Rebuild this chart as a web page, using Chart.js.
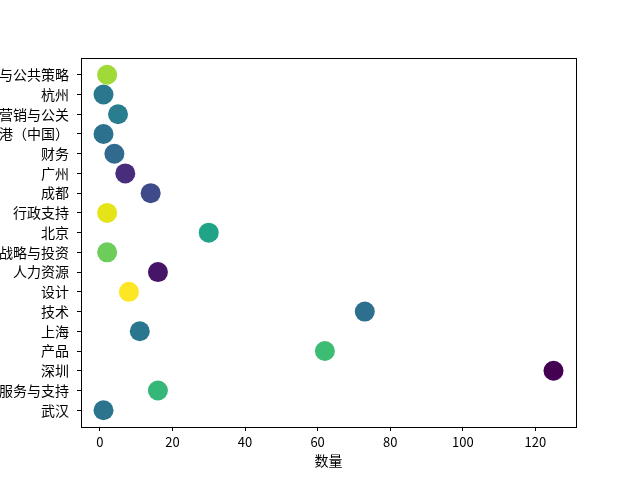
<!DOCTYPE html>
<html>
<head>
<meta charset="utf-8">
<script src="https://cdn.jsdelivr.net/npm/chart.js@4"></script>
<style>
  html, body { margin: 0; padding: 0; background: #fff; }
  #wrap { width: 640px; height: 480px; }
</style>
</head>
<body>
<div id="wrap"><canvas id="c" width="640" height="480"></canvas></div>
<script>
// categories listed bottom to top, as they sit on the y axis
const categories = ['武汉', '客户服务与支持', '深圳', '产品', '上海', '技术', '设计', '人力资源', '战略与投资',
                    '北京', '行政支持', '成都', '广州', '财务', '香港（中国）', '市场营销与公关', '杭州', '政府与公共策略'];
const counts = [1, 16, 125, 62, 11, 73, 8, 16, 2, 30, 2, 14, 7, 4, 1, 5, 1, 2];
const pointColors = ['#2c738e', '#35b779', '#440154', '#3dbc74', '#2a768e', '#2d708e', '#fde725', '#481467', '#6ccd5a',
                     '#20a386', '#e5e419', '#3e4a89', '#472d7b', '#306a8e', '#2c728e', '#287d8e', '#2a788e', '#a0da39'];
const xTicks = [0, 20, 40, 60, 80, 100, 120];

const FONT = "'Noto Sans CJK SC', 'DejaVu Sans', sans-serif";

// full black frame round the plot area, like matplotlib's spines
const frame = {
  id: 'frame',
  afterDraw(chart) {
    const a = chart.chartArea, ctx = chart.ctx;
    ctx.save();
    ctx.strokeStyle = '#000';
    ctx.lineWidth = 1;
    ctx.strokeRect(Math.round(a.left) + 0.5, Math.round(a.top) + 0.5,
                   Math.round(a.right - a.left), Math.round(a.bottom - a.top));
    ctx.restore();
  }
};

new Chart(document.getElementById('c'), {
  type: 'scatter',
  data: {
    datasets: [{
      data: counts.map((v, i) => ({ x: v, y: i })),
      backgroundColor: pointColors,
      borderWidth: 0,
      pointRadius: 10,
      pointHoverRadius: 10
    }]
  },
  options: {
    responsive: false,
    animation: false,
    layout: { padding: { left: 0, top: 58, right: 64, bottom: 11 } },
    plugins: { legend: { display: false }, tooltip: { enabled: false } },
    scales: {
      x: {
        type: 'linear',
        min: -5.2,
        max: 131.2,
        afterBuildTicks: ax => { ax.ticks = xTicks.map(v => ({ value: v })); },
        afterFit: ax => { ax.height = 42; },
        grid: { drawOnChartArea: false, drawTicks: true, tickLength: 4, color: '#000' },
        border: { display: false },
        ticks: { color: '#000', font: { family: FONT, size: 13 }, padding: 3, maxRotation: 0 },
        title: { display: true, text: '数量', color: '#000', font: { family: FONT, size: 14 }, padding: { top: 0, bottom: 0 } }
      },
      y: {
        type: 'linear',
        min: -0.85,
        max: 17.85,
        afterBuildTicks: ax => { ax.ticks = categories.map((c, i) => ({ value: i })); },
        afterFit: ax => { ax.width = 81; },
        grid: { drawOnChartArea: false, drawTicks: true, tickLength: 4, color: '#000' },
        border: { display: false },
        ticks: {
          color: '#000',
          font: { family: FONT, size: 14 },
          padding: 8,
          autoSkip: false,
          callback: v => categories[v]
        }
      }
    }
  },
  plugins: [frame]
});
</script>
</body>
</html>
